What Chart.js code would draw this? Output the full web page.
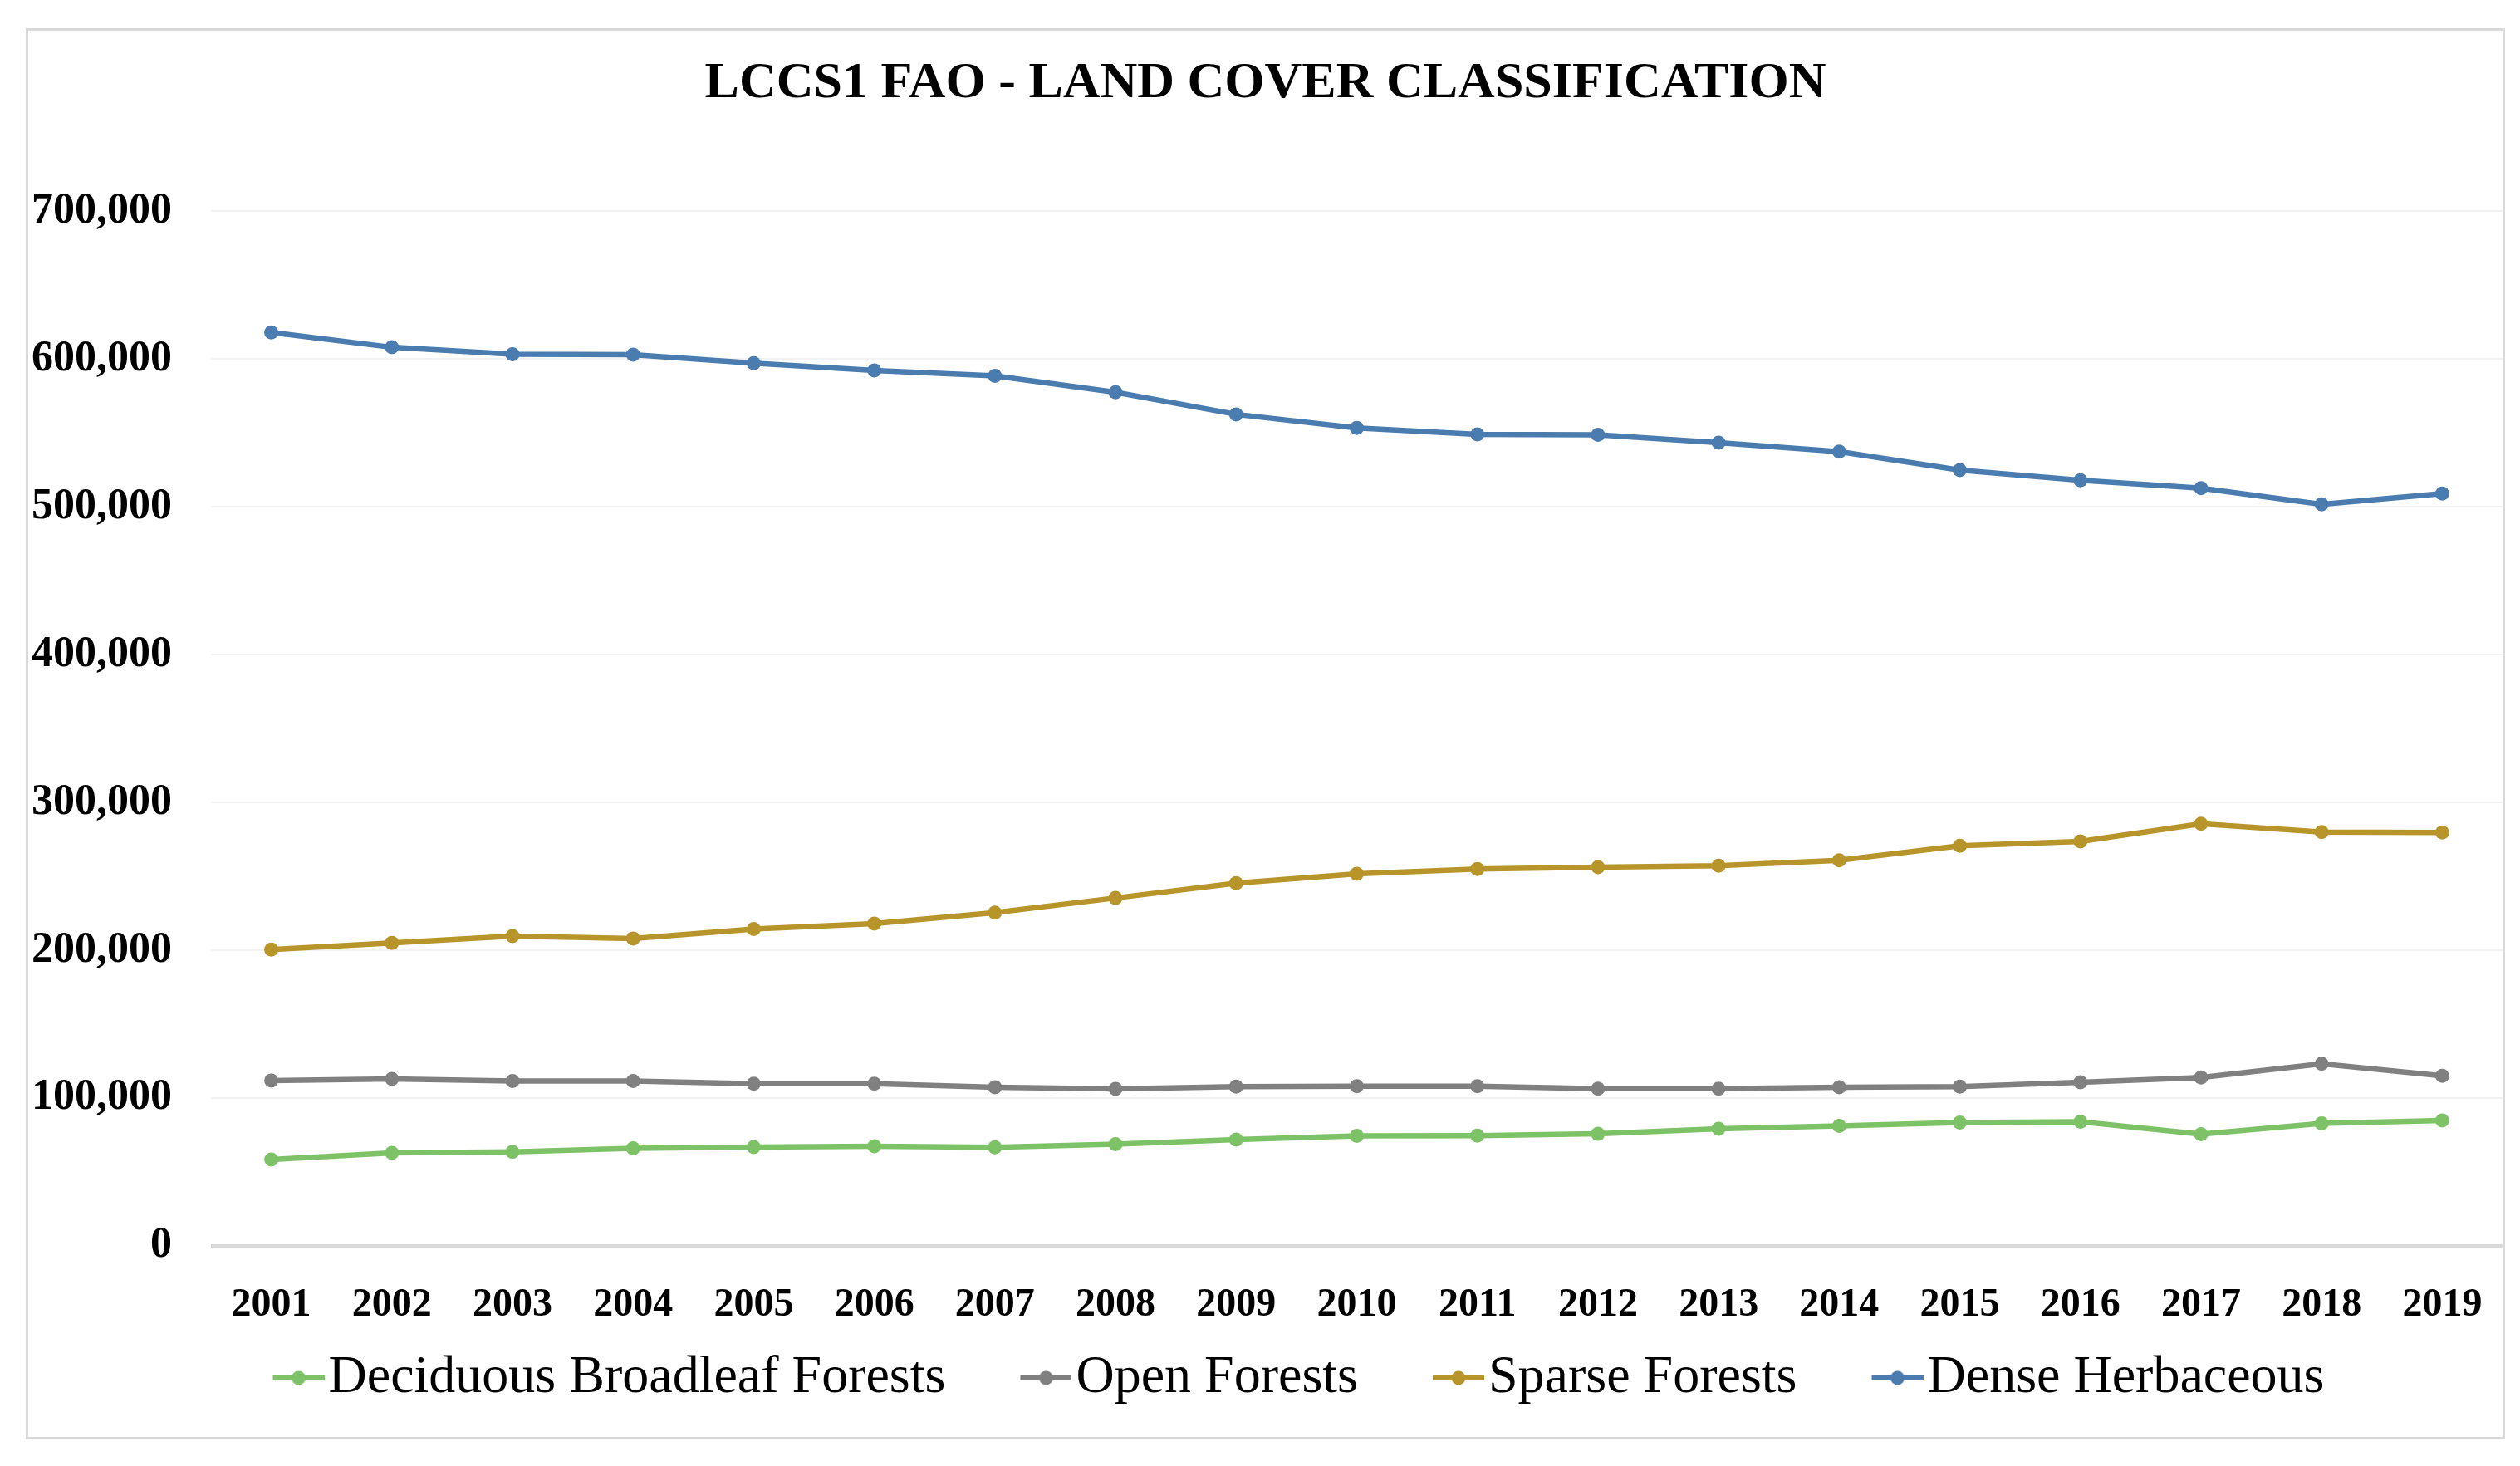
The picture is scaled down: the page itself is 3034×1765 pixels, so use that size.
<!DOCTYPE html>
<html>
<head>
<meta charset="utf-8">
<script src="https://cdn.jsdelivr.net/npm/chart.js@4.4.1/dist/chart.umd.min.js"></script>
<style>
  html, body { margin: 0; padding: 0; background: #fff; }
  #box {
    position: absolute; left: 31px; top: 34px;
    width: 2985px; height: 1699px;
    border: 3px solid #d9d9d9; box-sizing: border-box;
  }
</style>
</head>
<body>
<div id="box"><canvas id="myChart"></canvas></div>
<script>
// data
let years = ['2001','2002','2003','2004','2005','2006','2007','2008','2009','2010',
             '2011','2012','2013','2014','2015','2016','2017','2018','2019'];
let deciduous = [58400, 63000, 63700, 66000, 66900, 67500, 66700, 68900, 71900, 74400,
                 74600, 75800, 79200, 81200, 83400, 84000, 75600, 82900, 84800];
let openForests = [111900, 113000, 111500, 111600, 109700, 109700, 107400, 106200, 107700, 108000,
                   108000, 106400, 106400, 107400, 107700, 110700, 113900, 123200, 115100];
let sparse = [200500, 205000, 209600, 208000, 214400, 218000, 225500, 235400, 245400, 251800,
              255000, 256200, 257200, 260900, 270700, 273700, 285600, 280000, 279700];
let dense = [618000, 608000, 603300, 603000, 597300, 592300, 588700, 577600, 562600, 553400,
             549000, 548800, 543400, 537400, 524900, 518000, 512700, 501700, 509000];
let seriesNames = ['Deciduous Broadleaf Forests', 'Open Forests', 'Sparse Forests', 'Dense Herbaceous'];
let colors = ['#7ec267', '#808080', '#b8952b', '#4b7cb0'];

const FONT = "'Liberation Serif', 'Times New Roman', serif";
const LEG_SIZE = 64;
const MARK_W = 62, BOX_W = 115;

// legend marker: short line with a dot, padded on the left so it sits next to the text
let legendMark = (color) => {
    let c = document.createElement('canvas');
    c.width = BOX_W + LEG_SIZE - 10;
    c.height = 20;
    let g = c.getContext('2d');
    let x0 = c.width - MARK_W;
    g.strokeStyle = color;
    g.lineWidth = 6;
    g.beginPath();
    g.moveTo(x0, 10);
    g.lineTo(c.width, 10);
    g.stroke();
    g.fillStyle = color;
    g.beginPath();
    g.arc(x0 + MARK_W / 2, 10, 8.5, 0, Math.PI * 2);
    g.fill();
    return c;
};

let makeSet = (label, data, color) => ({
    label: label,
    data: data,
    borderColor: color,
    backgroundColor: color,
    borderWidth: 6.5,
    pointRadius: 8.5,
    pointHoverRadius: 8.5,
    pointBorderWidth: 0,
    tension: 0
});

let marks = colors.map(legendMark);

let ctx = document.getElementById('myChart').getContext('2d');
let chart = new Chart(ctx, {
    type: 'line',
    data: {
        labels: years,
        datasets: [
            makeSet(seriesNames[0], deciduous, colors[0]),
            makeSet(seriesNames[1], openForests, colors[1]),
            makeSet(seriesNames[2], sparse, colors[2]),
            makeSet(seriesNames[3], dense, colors[3])
        ]
    },
    options: {
        responsive: true,
        maintainAspectRatio: false,
        animation: false,
        devicePixelRatio: 1,
        layout: { autoPadding: false, padding: { left: 0, right: 0, top: 0, bottom: 29 } },
        plugins: {
            title: {
                display: true,
                text: 'LCCS1 FAO - LAND COVER CLASSIFICATION',
                color: '#000',
                font: { family: FONT, size: 62, weight: 'bold', lineHeight: 1.2 },
                padding: { top: 27, bottom: 116 }
            },
            legend: {
                position: 'bottom',
                labels: {
                    color: '#000',
                    font: { family: FONT, size: LEG_SIZE },
                    usePointStyle: true,
                    pointStyleWidth: BOX_W,
                    padding: 10,
                    generateLabels: (ch) => {
                        let items = Chart.defaults.plugins.legend.labels.generateLabels(ch);
                        items.forEach((it, i) => { it.pointStyle = marks[i]; });
                        return items;
                    }
                }
            },
            tooltip: { enabled: false }
        },
        scales: {
            x: {
                offset: true,
                grid: { display: false },
                border: { display: false },
                ticks: {
                    color: '#000',
                    padding: 0,
                    maxRotation: 0,
                    autoSkip: false,
                    // tall line box pushes the year labels down without side padding
                    font: { family: FONT, size: 48, weight: 'bold', lineHeight: 2.66 }
                },
                afterFit: (scale) => { scale.height = 117; }
            },
            y: {
                min: 0,
                max: 700000,
                border: { display: false },
                grid: {
                    drawTicks: false,
                    color: (c) => c.tick.value === 0 ? '#d9d9d9' : '#f2f2f2',
                    lineWidth: (c) => c.tick.value === 0 ? 4 : 2
                },
                ticks: {
                    stepSize: 100000,
                    color: '#000',
                    padding: 47,
                    font: { family: FONT, size: 52, weight: 'bold' },
                    callback: (v) => v.toLocaleString('en-US')
                },
                afterFit: (scale) => { scale.width = 220; }
            }
        }
    }
});
</script>
</body>
</html>
